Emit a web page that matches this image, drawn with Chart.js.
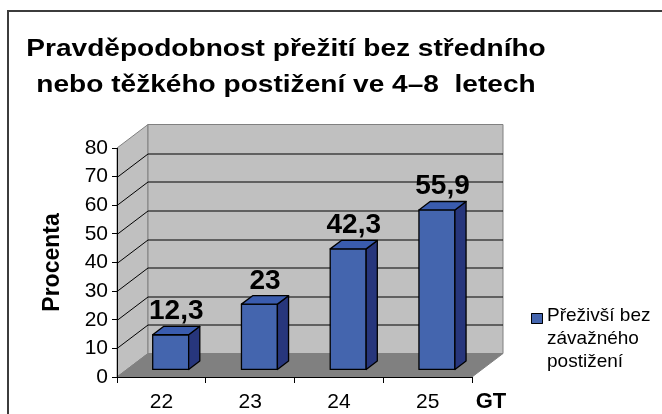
<!DOCTYPE html>
<html>
<head>
<meta charset="utf-8">
<script src="https://cdn.jsdelivr.net/npm/chart.js@4.4.1/dist/chart.umd.min.js"></script>
<style>
  html, body { margin: 0; padding: 0; background: #fff; }
  canvas { display: block; }
</style>
</head>
<body>
<canvas id="chart" width="662" height="414"></canvas>
<script>
// data
const categories = ["22", "23", "24", "25"];
const survived = [12.3, 23, 42.3, 55.9];
const titleLines = ["Pravděpodobnost přežití bez středního", "nebo těžkého postižení ve 4–8  letech"];
const legendLines = ["Přeživší bez", "závažného", "postižení"];
const yAxisTitle = "Procenta";
const xAxisTitle = "GT";

const FONT = "'Liberation Sans', Arial, sans-serif";
const BAR_FRONT = "#4465ae";
const BAR_TOP = "#3a5cae";
const BAR_SIDE = "#27367c";
// depth of the 3D box (front plane -> back wall), and where the bars sit in it
const DEPTH = { x: 31, y: -23.5 };
const BAR_SHIFT = 0.3;
const BAR_DEPTH = 0.36;

function poly(ctx, pts, fill, stroke, lw) {
  ctx.beginPath();
  ctx.moveTo(pts[0][0], pts[0][1]);
  for (let i = 1; i < pts.length; i++) ctx.lineTo(pts[i][0], pts[i][1]);
  ctx.closePath();
  if (fill) { ctx.fillStyle = fill; ctx.fill(); }
  if (stroke) { ctx.strokeStyle = stroke; ctx.lineWidth = lw || 1; ctx.stroke(); }
}

const box3d = {
  id: "box3d",
  beforeDraw(chart) {
    const { ctx, chartArea: a, scales: { y } } = chart;
    const dx = DEPTH.x, dy = DEPTH.y;
    const L = a.left, R = a.right, T = a.top, B = a.bottom;
    ctx.save();

    // outer frame of the slide picture
    ctx.strokeStyle = "#3c3c3c";
    ctx.lineWidth = 2;
    ctx.strokeRect(8, 11, chart.width + 20, chart.height + 20);

    // walls and floor
    poly(ctx, [[L, T], [L + dx, T + dy], [L + dx, B + dy], [L, B]], "#c0c0c0", "#808080");
    poly(ctx, [[L + dx, T + dy], [R + dx, T + dy], [R + dx, B + dy], [L + dx, B + dy]], "#c0c0c0", "#808080");
    poly(ctx, [[L, B], [R, B], [R + dx, B + dy], [L + dx, B + dy]], "#808080", "#808080");

    // gridlines on side wall and back wall
    ctx.strokeStyle = "#000";
    ctx.lineWidth = 1;
    y.ticks.forEach(t => {
      if (t.value === y.min || t.value === y.max) return;
      const py = Math.round(y.getPixelForValue(t.value)) + 0.5;
      ctx.beginPath();
      ctx.moveTo(L, py);
      ctx.lineTo(L + dx, py + dy);
      ctx.lineTo(R + dx, py + dy);
      ctx.stroke();
    });

    // title
    ctx.fillStyle = "#000";
    ctx.font = "bold 24px " + FONT;
    ctx.textAlign = "center";
    ctx.textBaseline = "alphabetic";
    titleLines.forEach((line, i) => {
      ctx.save();
      ctx.translate(286, 56 + i * 36);
      ctx.scale(1.17, 1);
      ctx.fillText(line, 0, 0);
      ctx.restore();
    });
    ctx.restore();
  },
  afterDatasetsDraw(chart) {
    const { ctx, chartArea: a } = chart;
    const meta = chart.getDatasetMeta(0);
    const sx = DEPTH.x * BAR_SHIFT, sy = DEPTH.y * BAR_SHIFT;
    const bx = DEPTH.x * BAR_DEPTH, by = DEPTH.y * BAR_DEPTH;
    ctx.save();
    ctx.lineJoin = "round";
    meta.data.forEach((bar, i) => {
      const p = bar.getProps(["x", "y", "base", "width"], true);
      const x0 = p.x - p.width / 2 + sx, x1 = x0 + p.width;
      const yt = p.y + sy, yb = p.base + sy;
      poly(ctx, [[x0, yt], [x1, yt], [x1, yb], [x0, yb]], BAR_FRONT, "#000", 1.3);
      poly(ctx, [[x1, yt], [x1 + bx, yt + by], [x1 + bx, yb + by], [x1, yb]], BAR_SIDE, "#000", 1.3);
      poly(ctx, [[x0, yt], [x1, yt], [x1 + bx, yt + by], [x0 + bx, yt + by]], BAR_TOP, "#000", 1.3);

      // value label
      ctx.fillStyle = "#000";
      ctx.font = "bold 28px " + FONT;
      ctx.textAlign = "center";
      ctx.textBaseline = "alphabetic";
      ctx.fillText(String(survived[i]).replace(".", ","), (x0 + x1) / 2 + bx / 2, yt + by - 7);
    });

    // axis title at the end of the category axis
    ctx.font = "bold 22px " + FONT;
    ctx.textAlign = "center";
    ctx.textBaseline = "middle";
    ctx.fillText(xAxisTitle, a.right + 19, 402);

    // legend
    const lx = 531, ly = 313;
    ctx.fillStyle = BAR_FRONT;
    ctx.fillRect(lx, ly, 12, 11);
    ctx.strokeStyle = "#000";
    ctx.lineWidth = 1;
    ctx.strokeRect(lx + 0.5, ly + 0.5, 11, 10);
    ctx.fillStyle = "#000";
    ctx.font = "19px " + FONT;
    ctx.textAlign = "left";
    ctx.textBaseline = "middle";
    legendLines.forEach((line, i) => {
      ctx.fillText(line, 547, 316 + i * 23);
    });
    ctx.restore();
  }
};

new Chart(document.getElementById("chart"), {
  type: "bar",
  data: {
    labels: categories,
    datasets: [{
      label: legendLines.join(" "),
      data: survived,
      backgroundColor: "rgba(0,0,0,0)",
      borderWidth: 0,
      categoryPercentage: 1,
      barPercentage: 0.405,
    }]
  },
  options: {
    responsive: false,
    animation: false,
    devicePixelRatio: 1,
    layout: { padding: { left: 0, right: 190, top: 148, bottom: 0 } },
    plugins: {
      legend: { display: false },
      title: { display: false },
      tooltip: { enabled: false },
    },
    scales: {
      x: {
        grid: { display: true, drawOnChartArea: false, drawTicks: true, tickLength: 6, color: "#000", offset: true },
        border: { display: true, color: "#000", width: 1 },
        ticks: { color: "#000", font: { family: FONT, size: 21 }, padding: 7, maxRotation: 0 },
        afterFit: s => { s.height = 37; },
      },
      y: {
        min: 0,
        max: 80,
        ticks: { stepSize: 10, color: "#000", font: { family: FONT, size: 21 }, padding: 4 },
        grid: { drawOnChartArea: false, drawTicks: true, tickLength: 5, color: "#000" },
        border: { display: true, color: "#000", width: 1 },
        title: {
          display: true,
          text: yAxisTitle,
          color: "#000",
          font: { family: FONT, size: 23, weight: "bold" },
          padding: { top: 39, bottom: 0 },
        },
        afterFit: s => { s.width = 117; },
      }
    }
  },
  plugins: [box3d]
});
</script>
</body>
</html>
